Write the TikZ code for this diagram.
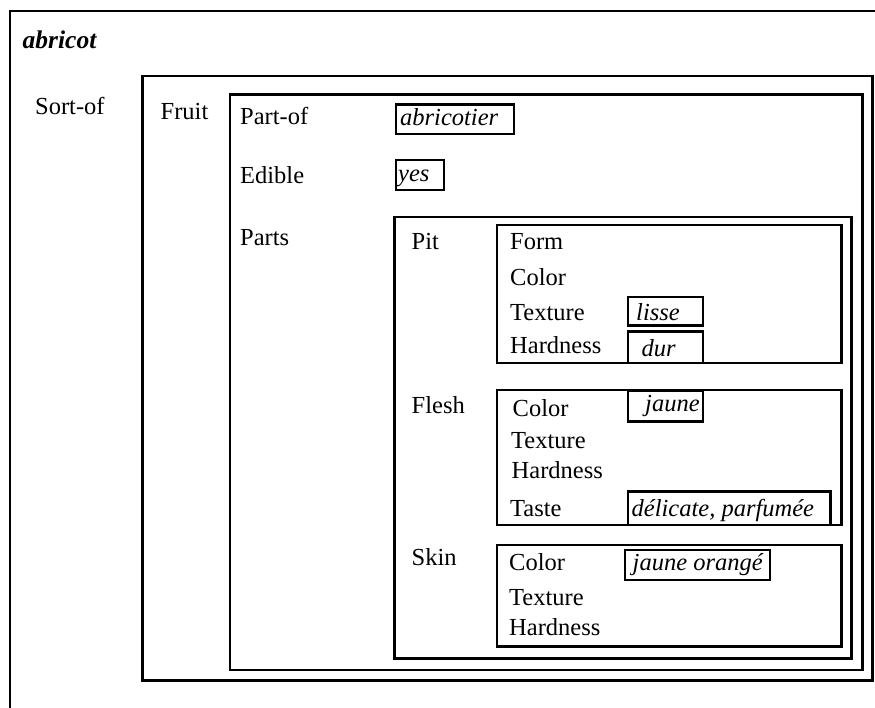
\documentclass[tikz,border=0pt]{standalone}
\usepackage{fontspec}
\setmainfont{Liberation Serif}
\begin{document}
\begin{tikzpicture}[x=1pt,y=-1pt,
  frame/.style={draw, line width=2.4pt},
  vbox/.style={draw, line width=2.2pt},
  lbl/.style={anchor=base west, inner sep=0pt, font=\fontsize{24.5}{28}\selectfont},
  val/.style={lbl, font=\fontsize{24.5}{28}\selectfont\itshape},
  title/.style={lbl, font=\fontsize{25.5}{28}\selectfont\bfseries\itshape}]
\useasboundingbox (0,0) rectangle (875,707);
% frames
\draw[frame] (880,11) -- (10,11) -- (10,712);
\draw[frame] (142.5,76) rectangle (872.5,680.5);
\draw[frame] (230,94.5) rectangle (862.5,670);
\draw[frame] (394.5,217) rectangle (851.5,658.5);
\draw[frame] (497,225) rectangle (841.5,363);
\draw[frame] (497,390) rectangle (841.5,525);
\draw[frame] (497,545) rectangle (841.5,646.5);
% value boxes
\draw[vbox] (396,104.5) rectangle (514,134);
\draw[vbox] (396,160) rectangle (444,190);
\draw[vbox] (628,297) rectangle (703,325.5);
\draw[vbox] (628,331.5) rectangle (703,363);
\draw[vbox] (628,391) rectangle (703,421.5);
\draw[vbox] (628,491.5) rectangle (830.5,525);
\draw[vbox] (625,550) rectangle (770,580);
% texts
\node[title] (abricot) at (22.5,48) {abricot};
\node[lbl] (sortof) at (35,114) {Sort-of};
\node[lbl] (fruit) at (160.5,119) {Fruit};
\node[lbl] (partof) at (240,124) {Part-of};
\node[lbl] (edible) at (240,183) {Edible};
\node[lbl] (parts) at (240,245) {Parts};
\node[val] (abricotier) at (400,125) {abricotier};
\node[val] (yes) at (398,181.5) {yes};
\node[lbl] (pit) at (411.5,249) {Pit};
\node[lbl] (pform) at (510,249) {Form};
\node[lbl] (pcolor) at (510,285) {Color};
\node[lbl] (ptexture) at (510,320) {Texture};
\node[lbl] (phard) at (510,353) {Hardness};
\node[val] (lisse) at (636,320) {lisse};
\node[val] (dur) at (641.5,356.5) {dur};
\node[lbl] (flesh) at (411.5,413) {Flesh};
\node[lbl] (fcolor) at (512.5,416) {Color};
\node[lbl] (ftexture) at (511,448) {Texture};
\node[lbl] (fhard) at (511.5,478) {Hardness};
\node[lbl] (ftaste) at (510,516.5) {Taste};
\node[val] (jaune) at (645,411.5) {jaune};
\node[val] (delicate) at (631.5,516.5) {délicate, parfumée};
\node[lbl] (skin) at (411.5,565) {Skin};
\node[lbl] (scolor) at (509,570) {Color};
\node[lbl] (stexture) at (509,605) {Texture};
\node[lbl] (shard) at (509,635) {Hardness};
\node[val] (jorange) at (632.5,570) {jaune orangé};
\end{tikzpicture}
\end{document}
